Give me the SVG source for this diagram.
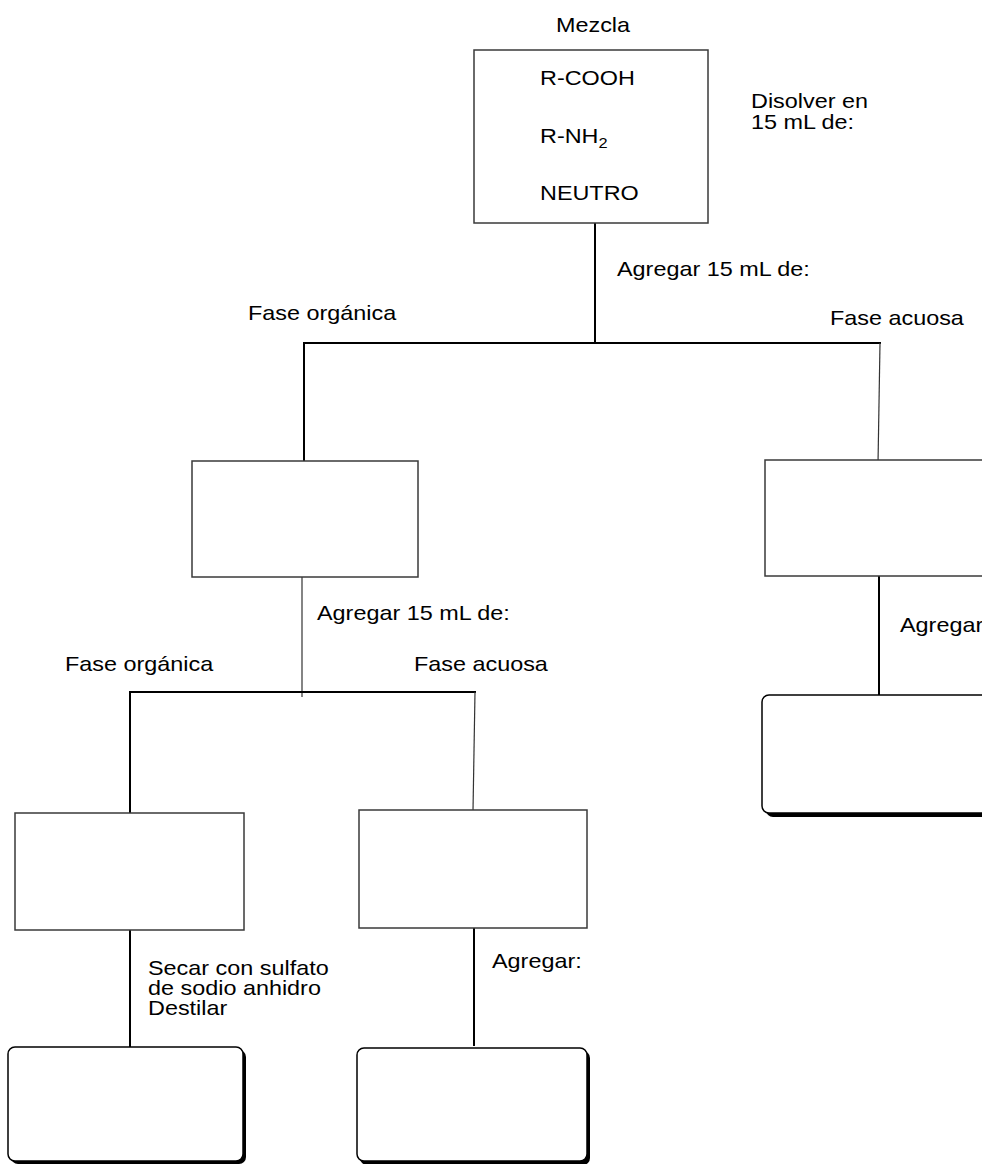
<svg xmlns="http://www.w3.org/2000/svg" width="982" height="1164" viewBox="0 0 982 1164">
<style>
.t{font-family:"Liberation Sans",Arial,sans-serif;font-size:20px;fill:#000}
.box{fill:#fff;stroke:#3a3a3a;stroke-width:1.5}
.rbox{fill:#fff;stroke:#000;stroke-width:1.5}
.shadow{fill:#000}
.thick{stroke:#000;stroke-width:2;fill:none}
.thin{stroke:#333;stroke-width:1.2;fill:none}
</style>
<rect width="982" height="1164" fill="#fff"/>
<g id="connectors">
<line class="thick" x1="595" y1="223" x2="595" y2="344"/>
<line class="thick" x1="303" y1="343" x2="881" y2="343"/>
<line class="thick" x1="304" y1="343" x2="304" y2="461"/>
<line class="thin" x1="880" y1="343" x2="878" y2="464"/>
<line class="thin" x1="302" y1="577" x2="302" y2="697"/>
<line class="thick" x1="129" y1="692" x2="476" y2="692"/>
<line class="thick" x1="130" y1="692" x2="130" y2="813"/>
<line class="thin" x1="475" y1="692" x2="473" y2="811"/>
<line class="thick" x1="879" y1="576" x2="879" y2="695"/>
<line class="thick" x1="130" y1="930" x2="130" y2="1047"/>
<line class="thick" x1="474" y1="928" x2="474" y2="1046"/>
</g>
<g id="mezcla">
<text class="t" transform="translate(556,32) scale(1.17,1)">Mezcla</text>
<rect class="box" x="474" y="50" width="234" height="173"/>
<text class="t" transform="translate(540,85) scale(1.17,1)">R-COOH</text>
<text class="t" transform="translate(540,143) scale(1.17,1)">R-NH<tspan font-size="14" dy="5">2</tspan></text>
<text class="t" transform="translate(540,200) scale(1.17,1)">NEUTRO</text>
</g>
<g id="label-disolver">
<text class="t" transform="translate(751,108) scale(1.17,1)">Disolver en</text>
<text class="t" transform="translate(751,129) scale(1.17,1)">15 mL de:</text>
</g>
<g id="label-agregar1">
<text class="t" transform="translate(617,276) scale(1.17,1)">Agregar 15 mL de:</text>
</g>
<g id="label-fo1">
<text class="t" transform="translate(248,320) scale(1.17,1)">Fase orgánica</text>
</g>
<g id="label-fa1">
<text class="t" transform="translate(830,325) scale(1.17,1)">Fase acuosa</text>
</g>
<g id="box-org1">
<rect class="box" x="192" y="461" width="226" height="116"/>
</g>
<g id="box-acu1">
<rect class="box" x="765" y="460" width="230" height="116"/>
</g>
<g id="label-agregar2">
<text class="t" transform="translate(317,620) scale(1.17,1)">Agregar 15 mL de:</text>
</g>
<g id="label-agregar-right">
<text class="t" transform="translate(900,632) scale(1.17,1)">Agregar</text>
</g>
<g id="label-fo2">
<text class="t" transform="translate(65,671) scale(1.17,1)">Fase orgánica</text>
</g>
<g id="label-fa2">
<text class="t" transform="translate(414,671) scale(1.17,1)">Fase acuosa</text>
</g>
<g id="box-result-right">
<rect class="shadow" x="766" y="699" width="230" height="118" rx="7"/>
<rect class="rbox" x="762" y="695" width="230" height="118" rx="7"/>
</g>
<g id="box-org2">
<rect class="box" x="15" y="813" width="229" height="117"/>
</g>
<g id="box-acu2">
<rect class="box" x="359" y="810" width="228" height="118"/>
</g>
<g id="label-secar">
<text class="t" transform="translate(148,975) scale(1.17,1)">Secar con sulfato</text>
<text class="t" transform="translate(148,995) scale(1.17,1)">de sodio anhidro</text>
<text class="t" transform="translate(148,1015) scale(1.17,1)">Destilar</text>
</g>
<g id="label-agregar3">
<text class="t" transform="translate(492,968) scale(1.17,1)">Agregar:</text>
</g>
<g id="box-neutro">
<rect class="shadow" x="11" y="1050" width="235" height="114" rx="7"/>
<rect class="rbox" x="8" y="1047" width="235" height="114" rx="7"/>
</g>
<g id="box-acid">
<rect class="shadow" x="360" y="1051" width="230" height="114" rx="7"/>
<rect class="rbox" x="357" y="1048" width="230" height="113" rx="7"/>
</g>
</svg>
